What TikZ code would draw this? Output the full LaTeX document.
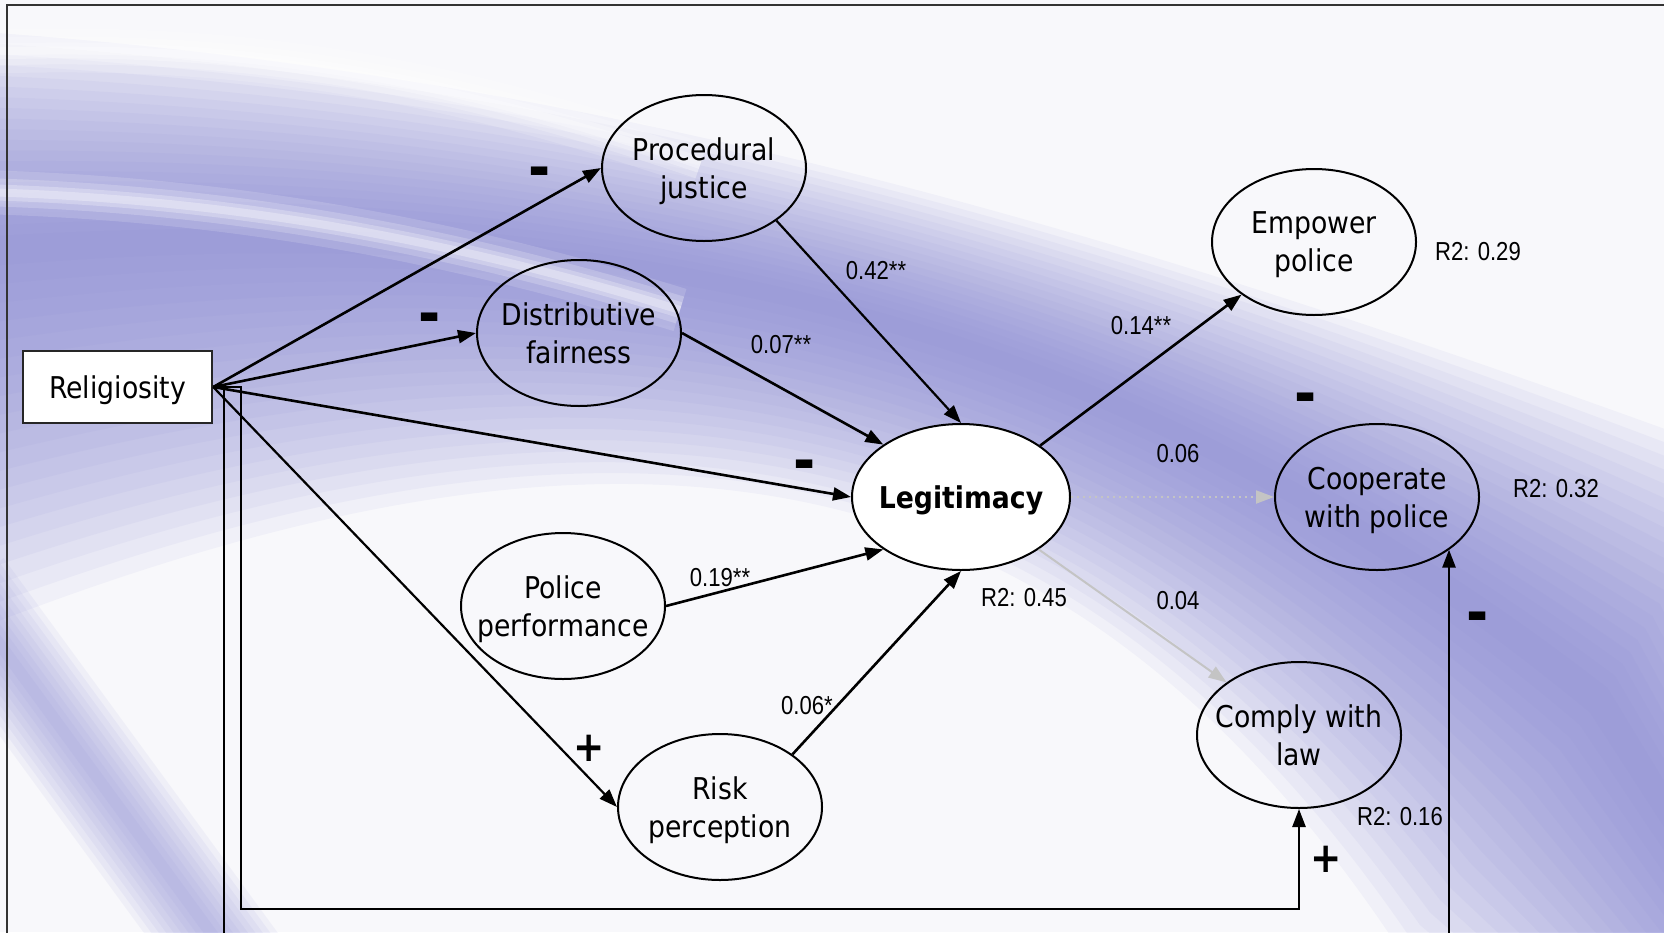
\documentclass[tikz,border=0pt]{standalone}
\usepackage{fontspec}
\setmainfont{DejaVu Sans}[FakeStretch=0.89]
\newfontfamily\lblfont{Liberation Sans}[FakeStretch=0.85]
\usetikzlibrary{arrows.meta,shapes.geometric,calc}
\definecolor{bgbase}{RGB}{248,248,251}
\definecolor{bandc}{RGB}{136,136,212}
\definecolor{weakc}{RGB}{196,196,196}
\begin{document}
\begin{tikzpicture}[x=0.5pt,y=-0.5pt,
  latent/.style={ellipse, draw=black, line width=1pt, minimum width=102pt,
    minimum height=73pt, inner xsep=-12pt, inner ysep=0pt, align=center,
    text depth=0pt, font=\fontsize{15}{19}\selectfont},
  observed/.style={rectangle, draw=black!85, line width=1.2pt, fill=white,
    minimum width=94.5pt, minimum height=36pt, inner sep=0pt, text depth=0pt,
    font=\fontsize{15}{19}\selectfont},
  conn/.style={line width=1.3pt, -{Triangle[length=9pt,width=6.5pt]}},
  thinconn/.style={line width=1.1pt, -{Triangle[length=9pt,width=6.5pt]}},
  weakconn/.style={line width=1pt, draw=weakc,
    -{Triangle[length=9pt,width=6.5pt,fill=weakc]}},
  coef/.style={font=\lblfont\fontsize{13}{15}\selectfont, inner sep=0pt},
  minusmark/.style={font=\bfseries\fontsize{30}{30}\selectfont, inner sep=0pt},
  plusmark/.style={font=\bfseries\fontsize{21}{21}\selectfont, inner sep=0pt},
]
\useasboundingbox (0,0) rectangle (1664,932);

% background: a soft lavender swoosh built from nested translucent layers
% (upper edge U, lower edge L, darkest line M)
\coordinate (U0) at (-50,30);   \coordinate (U1) at (600,70);
\coordinate (U2) at (1150,240); \coordinate (U3) at (1750,460);
\coordinate (L0) at (-50,640);  \coordinate (L1) at (600,380);
\coordinate (L2) at (1050,420); \coordinate (L3) at (1400,950);
\coordinate (M0) at (-50,250);  \coordinate (M1) at (600,200);
\coordinate (M2) at (1100,300); \coordinate (M3) at (1600,700);
\coordinate (far) at (2100,1500);
\begin{scope}
  \clip (0,0) rectangle (1664,932);
  \fill[bgbase] (0,0) rectangle (1664,932);
  \foreach \s in {0,0.05,...,0.96}
    \fill[bandc, opacity=0.07]
      ($(U0)!\s!(M0)$) .. controls ($(U1)!\s!(M1)$) and ($(U2)!\s!(M2)$) .. ($(U3)!\s!(M3)$)
      -- (far)
      -- ($(L3)!\s!(M3)$) .. controls ($(L2)!\s!(M2)$) and ($(L1)!\s!(M1)$) .. ($(L0)!\s!(M0)$)
      -- cycle;
  % faint diagonal streak in the lower left corner
  \foreach \w in {6,12,...,54}
    \draw[bandc, line width=\w pt, opacity=0.08]
      (-40,590) -- (260,1000);
  % light streaks across the upper part of the swoosh
  \foreach \w/\o in {22/0.15,14/0.2,8/0.25,4/0.3}
    \draw[white, line width=\w pt, opacity=\o]
      (-20,52) .. controls (250,42) and (450,80) .. (700,165);
  \foreach \w/\o in {22/0.15,14/0.2,8/0.25,4/0.3}
    \draw[white, line width=\w pt, opacity=\o]
      (-20,192) .. controls (200,198) and (420,230) .. (680,310);
\end{scope}

% frame
\draw[line width=1.2pt, black!80] (7,945) -- (7,5) -- (1675,5);

% variables
\node[observed] (rel) at (117.5,387) {Religiosity};
\node[latent] (pj) at (704,168) {Procedural\\justice};
\node[latent] (df) at (579,333) {Distributive\\fairness};
\node[latent, fill=white, minimum width=109pt,
      font=\bfseries\fontsize{15}{19}\selectfont] (leg) at (961,497) {Legitimacy};
\node[latent] (pp) at (563,606) {Police\\performance};
\node[latent] (rp) at (720,807) {Risk\\perception};
\node[latent] (ep) at (1314,242) {Empower\\police};
\node[latent] (cp) at (1377,497) {Cooperate\\with police};
\node[latent] (cl) at (1299,735) {Comply with\\law};

% paths from religiosity
\draw[conn] (rel.east) -- (pj.west);
\draw[conn] (rel.east) -- (df.west);
\draw[conn] (rel.east) -- (leg.west);
\draw[thinconn] (rel.east) -- (rp.west);
\coordinate (bl) at (224,960);
\coordinate (br) at (1449,960);
\draw[conn] (rel.east) -- (bl |- rel.east) -- (bl) -- (br) -- (br |- cp.-36);
\coordinate (cr) at (241,909);
\draw[conn] (rel.east) -- (cr |- rel.east) -- (cr) -| (cl.south);

% paths into and out of legitimacy
\draw[thinconn] (pj.-36) -- (leg.north);
\draw[conn] (df.east) -- (leg.146);
\draw[conn] (pp.east) -- (leg.214);
\draw[conn] (rp.36) -- (leg.south);
\draw[conn] (leg.33) -- (ep.216);
\draw[weakconn, dotted] (leg.east) -- (cp.west);
\draw[weakconn] (leg.-34) -- (cl.144);

% signs of the religiosity effects
\node[minusmark] (s1) at (540,178) {-};
\node[minusmark] (s2) at (430,324) {-};
\node[minusmark] (s3) at (805,471) {-};
\node[plusmark] (s4) at (589,748) {+};
\node[minusmark] (s5) at (1306,404) {-};
\node[minusmark] (s6) at (1478,623) {-};
\node[plusmark] (s7) at (1326,859) {+};

% path coefficients
\node[coef] (c1) at (876,271) {0.42**};
\node[coef] (c2) at (781,345) {0.07**};
\node[coef] (c3) at (720,578) {0.19**};
\node[coef] (c4) at (807,706) {0.06*};
\node[coef] (c5) at (1141,326) {0.14**};
\node[coef] (c6) at (1178,454) {0.06};
\node[coef] (c7) at (1178,601) {0.04};

% explained variance
\node[coef] (r1) at (1478,252) {R2: 0.29};
\node[coef] (r2) at (1556,489) {R2: 0.32};
\node[coef] (r3) at (1024,598) {R2: 0.45};
\node[coef] (r4) at (1400,817) {R2: 0.16};
\end{tikzpicture}
\end{document}
